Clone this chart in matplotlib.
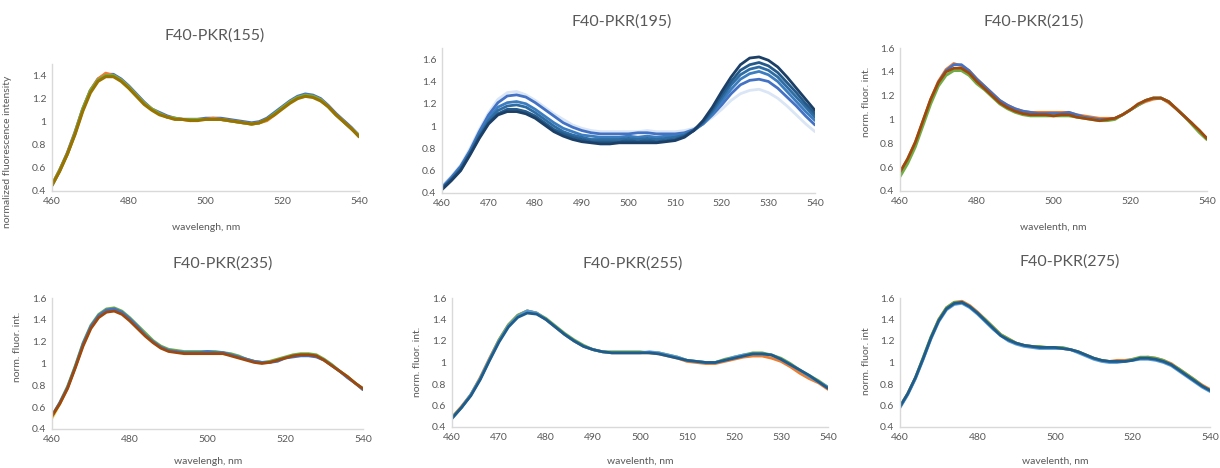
import numpy as np
import matplotlib
matplotlib.use("Agg")
import matplotlib.pyplot as plt

plt.rcParams['font.family'] = ['Lato', 'DejaVu Sans']

# wavelength grid, nm (2 nm steps)
wl = np.arange(460, 541, 2)

# ---- F40-PKR(155) ----
p155_blue = [0.45, 0.58, 0.73, 0.91, 1.11, 1.27, 1.37, 1.41, 1.41, 1.37, 1.31, 1.24, 1.17, 1.11, 1.08, 1.05, 1.03, 1.02, 1.02, 1.02, 1.03,
             1.03, 1.03, 1.02, 1.01, 1.00, 0.99, 1.00, 1.03, 1.08, 1.13, 1.18, 1.22, 1.24, 1.23, 1.20, 1.14, 1.07, 1.01, 0.95, 0.88]
p155_orange = [0.45, 0.58, 0.72, 0.90, 1.10, 1.27, 1.37, 1.42, 1.40, 1.36, 1.30, 1.23, 1.16, 1.11, 1.07, 1.04, 1.03, 1.02, 1.01, 1.02, 1.02,
               1.03, 1.02, 1.01, 1.00, 0.99, 0.98, 0.99, 1.01, 1.06, 1.12, 1.17, 1.21, 1.22, 1.22, 1.19, 1.13, 1.06, 1.00, 0.94, 0.88]
p155_green = [0.45, 0.58, 0.72, 0.90, 1.11, 1.27, 1.36, 1.40, 1.40, 1.36, 1.30, 1.23, 1.16, 1.11, 1.07, 1.04, 1.03, 1.02, 1.02, 1.02, 1.02,
              1.02, 1.02, 1.01, 1.00, 0.99, 0.98, 0.99, 1.02, 1.07, 1.12, 1.17, 1.21, 1.23, 1.22, 1.19, 1.13, 1.06, 1.00, 0.94, 0.88]
p155_olive = [0.45, 0.57, 0.72, 0.89, 1.09, 1.25, 1.35, 1.39, 1.39, 1.35, 1.29, 1.22, 1.15, 1.10, 1.06, 1.04, 1.02, 1.02, 1.01, 1.01, 1.02,
              1.02, 1.02, 1.01, 1.00, 0.99, 0.98, 0.99, 1.02, 1.06, 1.11, 1.16, 1.20, 1.22, 1.21, 1.18, 1.13, 1.06, 1.00, 0.94, 0.87]

# ---- F40-PKR(195) ----
p195_s1 = [0.46, 0.55, 0.65, 0.80, 0.97, 1.12, 1.24, 1.30, 1.31, 1.28, 1.23, 1.17, 1.11, 1.06, 1.01, 0.98, 0.96, 0.95, 0.95, 0.95, 0.95,
           0.95, 0.96, 0.95, 0.95, 0.95, 0.96, 0.98, 1.02, 1.08, 1.15, 1.23, 1.29, 1.32, 1.33, 1.30, 1.25, 1.18, 1.10, 1.02, 0.95]
p195_s2 = [0.45, 0.54, 0.64, 0.78, 0.95, 1.10, 1.21, 1.27, 1.28, 1.26, 1.21, 1.15, 1.09, 1.03, 0.99, 0.96, 0.94, 0.93, 0.93, 0.93, 0.93,
           0.94, 0.94, 0.93, 0.93, 0.93, 0.94, 0.97, 1.02, 1.10, 1.19, 1.29, 1.37, 1.41, 1.42, 1.40, 1.34, 1.26, 1.18, 1.09, 1.01]
p195_s3 = [0.45, 0.53, 0.63, 0.77, 0.93, 1.07, 1.17, 1.21, 1.22, 1.20, 1.15, 1.09, 1.03, 0.98, 0.95, 0.92, 0.91, 0.90, 0.90, 0.90, 0.91,
           0.90, 0.91, 0.90, 0.91, 0.91, 0.93, 0.96, 1.02, 1.11, 1.22, 1.33, 1.42, 1.47, 1.49, 1.46, 1.40, 1.31, 1.22, 1.13, 1.05]
p195_s4 = [0.44, 0.52, 0.62, 0.76, 0.92, 1.05, 1.14, 1.18, 1.19, 1.17, 1.12, 1.06, 1.00, 0.95, 0.92, 0.90, 0.88, 0.88, 0.88, 0.88, 0.89,
           0.88, 0.89, 0.88, 0.89, 0.90, 0.92, 0.96, 1.03, 1.13, 1.25, 1.37, 1.46, 1.51, 1.53, 1.50, 1.44, 1.35, 1.26, 1.17, 1.08]
p195_s5 = [0.44, 0.52, 0.61, 0.75, 0.90, 1.03, 1.11, 1.15, 1.15, 1.13, 1.09, 1.03, 0.97, 0.93, 0.90, 0.88, 0.86, 0.86, 0.86, 0.86, 0.87,
           0.86, 0.87, 0.86, 0.87, 0.88, 0.91, 0.96, 1.04, 1.15, 1.28, 1.40, 1.50, 1.55, 1.57, 1.54, 1.48, 1.39, 1.30, 1.20, 1.11]
p195_s6 = [0.43, 0.51, 0.60, 0.74, 0.89, 1.02, 1.10, 1.13, 1.13, 1.11, 1.07, 1.01, 0.95, 0.91, 0.88, 0.86, 0.85, 0.84, 0.84, 0.85, 0.85,
           0.85, 0.85, 0.85, 0.86, 0.87, 0.90, 0.96, 1.05, 1.17, 1.31, 1.44, 1.55, 1.61, 1.62, 1.59, 1.53, 1.44, 1.34, 1.24, 1.14]

# ---- F40-PKR(215) ----
p215_orange = [0.55, 0.67, 0.81, 0.99, 1.17, 1.32, 1.42, 1.47, 1.45, 1.41, 1.34, 1.28, 1.22, 1.16, 1.12, 1.09, 1.07, 1.06, 1.06, 1.06, 1.06,
               1.06, 1.06, 1.04, 1.03, 1.02, 1.01, 1.01, 1.01, 1.04, 1.08, 1.12, 1.15, 1.17, 1.18, 1.14, 1.09, 1.03, 0.97, 0.90, 0.84]
p215_blue = [0.55, 0.66, 0.80, 0.98, 1.16, 1.31, 1.41, 1.46, 1.46, 1.41, 1.34, 1.28, 1.22, 1.16, 1.12, 1.09, 1.07, 1.06, 1.05, 1.05, 1.05,
             1.05, 1.06, 1.04, 1.02, 1.01, 1.00, 1.00, 1.01, 1.04, 1.08, 1.12, 1.16, 1.18, 1.18, 1.15, 1.09, 1.03, 0.97, 0.90, 0.84]
p215_green = [0.52, 0.63, 0.77, 0.95, 1.13, 1.28, 1.37, 1.41, 1.41, 1.37, 1.30, 1.25, 1.19, 1.13, 1.09, 1.06, 1.04, 1.03, 1.03, 1.03, 1.03,
              1.03, 1.03, 1.02, 1.01, 1.00, 0.99, 0.99, 1.00, 1.04, 1.08, 1.12, 1.16, 1.18, 1.18, 1.15, 1.09, 1.03, 0.96, 0.89, 0.83]
p215_brown = [0.56, 0.67, 0.81, 0.99, 1.17, 1.31, 1.40, 1.43, 1.43, 1.39, 1.32, 1.26, 1.20, 1.14, 1.10, 1.07, 1.05, 1.04, 1.04, 1.04, 1.03,
              1.04, 1.04, 1.02, 1.01, 1.00, 0.99, 1.00, 1.01, 1.04, 1.08, 1.13, 1.16, 1.18, 1.18, 1.15, 1.09, 1.03, 0.97, 0.91, 0.84]

# ---- F40-PKR(235) ----
p235_green = [0.52, 0.64, 0.79, 0.98, 1.19, 1.35, 1.45, 1.50, 1.51, 1.48, 1.42, 1.35, 1.28, 1.21, 1.16, 1.13, 1.12, 1.11, 1.11, 1.11, 1.11,
              1.11, 1.10, 1.09, 1.07, 1.04, 1.02, 1.01, 1.02, 1.04, 1.06, 1.08, 1.09, 1.09, 1.08, 1.04, 0.99, 0.93, 0.88, 0.82, 0.77]
p235_blue = [0.52, 0.64, 0.78, 0.97, 1.18, 1.34, 1.44, 1.49, 1.50, 1.47, 1.41, 1.34, 1.26, 1.20, 1.15, 1.12, 1.11, 1.10, 1.10, 1.10, 1.11,
             1.10, 1.10, 1.08, 1.06, 1.04, 1.02, 1.01, 1.01, 1.02, 1.05, 1.06, 1.07, 1.07, 1.06, 1.03, 0.98, 0.93, 0.87, 0.82, 0.76]
p235_yellow = [0.50, 0.63, 0.78, 0.97, 1.17, 1.33, 1.43, 1.48, 1.49, 1.46, 1.40, 1.33, 1.26, 1.20, 1.15, 1.12, 1.11, 1.10, 1.10, 1.10, 1.10,
               1.10, 1.09, 1.08, 1.06, 1.04, 1.02, 1.01, 1.01, 1.03, 1.05, 1.07, 1.08, 1.08, 1.07, 1.03, 0.98, 0.93, 0.88, 0.82, 0.76]
p235_brown = [0.52, 0.63, 0.77, 0.96, 1.16, 1.32, 1.42, 1.47, 1.48, 1.45, 1.39, 1.32, 1.25, 1.19, 1.14, 1.11, 1.10, 1.09, 1.09, 1.09, 1.09,
              1.09, 1.09, 1.07, 1.05, 1.03, 1.01, 1.00, 1.01, 1.03, 1.05, 1.07, 1.08, 1.08, 1.07, 1.03, 0.98, 0.93, 0.88, 0.82, 0.77]

# ---- F40-PKR(255) ----
p255_orange = [0.49, 0.59, 0.70, 0.86, 1.04, 1.21, 1.35, 1.44, 1.48, 1.46, 1.40, 1.33, 1.26, 1.20, 1.15, 1.12, 1.10, 1.09, 1.09, 1.09, 1.09,
               1.09, 1.08, 1.06, 1.04, 1.01, 1.00, 0.99, 0.99, 1.01, 1.03, 1.05, 1.06, 1.06, 1.04, 1.01, 0.96, 0.90, 0.85, 0.81, 0.75]
p255_green = [0.49, 0.58, 0.70, 0.85, 1.03, 1.21, 1.35, 1.44, 1.48, 1.46, 1.41, 1.34, 1.27, 1.21, 1.16, 1.12, 1.10, 1.10, 1.10, 1.10, 1.10,
              1.09, 1.09, 1.07, 1.05, 1.02, 1.01, 1.00, 1.00, 1.03, 1.05, 1.07, 1.09, 1.09, 1.07, 1.04, 0.99, 0.93, 0.88, 0.83, 0.77]
p255_lblue = [0.48, 0.58, 0.70, 0.85, 1.03, 1.20, 1.34, 1.43, 1.48, 1.46, 1.40, 1.33, 1.26, 1.20, 1.15, 1.12, 1.10, 1.09, 1.09, 1.09, 1.09,
              1.10, 1.09, 1.07, 1.05, 1.02, 1.01, 1.00, 1.00, 1.02, 1.05, 1.07, 1.08, 1.08, 1.07, 1.03, 0.98, 0.93, 0.87, 0.82, 0.77]
p255_dblue = [0.48, 0.58, 0.69, 0.84, 1.02, 1.19, 1.33, 1.42, 1.46, 1.45, 1.40, 1.33, 1.26, 1.20, 1.15, 1.12, 1.10, 1.09, 1.09, 1.09, 1.09,
              1.09, 1.08, 1.06, 1.04, 1.02, 1.01, 1.00, 1.00, 1.02, 1.04, 1.06, 1.08, 1.08, 1.07, 1.03, 0.98, 0.93, 0.88, 0.82, 0.76]

# ---- F40-PKR(275) ----
p275_orange = [0.59, 0.71, 0.86, 1.04, 1.23, 1.40, 1.51, 1.56, 1.57, 1.53, 1.47, 1.40, 1.33, 1.26, 1.22, 1.18, 1.16, 1.15, 1.14, 1.14, 1.14,
               1.13, 1.12, 1.10, 1.07, 1.04, 1.02, 1.01, 1.02, 1.02, 1.03, 1.04, 1.05, 1.04, 1.02, 0.99, 0.94, 0.89, 0.84, 0.79, 0.75]
p275_green = [0.59, 0.71, 0.86, 1.05, 1.24, 1.40, 1.51, 1.56, 1.56, 1.52, 1.46, 1.40, 1.33, 1.26, 1.22, 1.18, 1.16, 1.15, 1.15, 1.14, 1.14,
              1.14, 1.12, 1.10, 1.07, 1.04, 1.02, 1.01, 1.01, 1.01, 1.03, 1.05, 1.05, 1.04, 1.02, 0.98, 0.94, 0.89, 0.84, 0.78, 0.74]
p275_lblue = [0.58, 0.70, 0.85, 1.03, 1.22, 1.38, 1.49, 1.54, 1.55, 1.51, 1.45, 1.38, 1.31, 1.25, 1.20, 1.17, 1.15, 1.14, 1.13, 1.13, 1.13,
              1.13, 1.12, 1.09, 1.06, 1.03, 1.01, 1.00, 1.00, 1.01, 1.02, 1.03, 1.03, 1.02, 1.00, 0.97, 0.92, 0.87, 0.82, 0.77, 0.73]
p275_dblue = [0.59, 0.71, 0.86, 1.04, 1.23, 1.39, 1.50, 1.55, 1.56, 1.52, 1.46, 1.39, 1.32, 1.25, 1.21, 1.18, 1.16, 1.15, 1.14, 1.14, 1.14,
              1.13, 1.12, 1.10, 1.07, 1.04, 1.02, 1.01, 1.01, 1.01, 1.02, 1.04, 1.04, 1.03, 1.01, 0.98, 0.93, 0.88, 0.83, 0.78, 0.74]

titles = ["F40-PKR(155)", "F40-PKR(195)", "F40-PKR(215)",
          "F40-PKR(235)", "F40-PKR(255)", "F40-PKR(275)"]
ytick_vals = [0.4, 0.6, 0.8, 1.0, 1.2, 1.4, 1.6]
ytick_text = ['0.4', '0.6', '0.8', '1', '1.2', '1.4', '1.6']

grey_txt = '#595959'
axis_col = '#D9D9D9'

panels = [
    # (series, colours, linewidth, ylim, xtick step)
    ([p155_blue, p155_orange, p155_green, p155_olive],
     ['#4472C4', '#ED7D31', '#70AD47', '#997300'], 2.2, (0.4, 1.5), 20),
    ([p195_s1, p195_s2, p195_s3, p195_s4, p195_s5, p195_s6],
     ['#DAE6F5', '#4472C4', '#3C7DC0', '#2E6DA4', '#245A8A', '#1B3F66'], 2.0, (0.4, 1.7), 10),
    ([p215_orange, p215_blue, p215_green, p215_brown],
     ['#ED7D31', '#4472C4', '#70AD47', '#9E480E'], 2.0, (0.4, 1.6), 20),
    ([p235_yellow, p235_green, p235_blue, p235_brown],
     ['#FFC000', '#70AD47', '#4472C4', '#9E480E'], 2.0, (0.4, 1.6), 20),
    ([p255_orange, p255_green, p255_lblue, p255_dblue],
     ['#ED7D31', '#70AD47', '#5B9BD5', '#1F5C8B'], 2.0, (0.4, 1.6), 10),
    ([p275_orange, p275_green, p275_lblue, p275_dblue],
     ['#ED7D31', '#70AD47', '#5B9BD5', '#1F5C8B'], 2.0, (0.4, 1.6), 20),
]

# axes boxes in pixels: x0, x1, ytop, ybottom
W, H = 1220, 468
boxes = [(52, 359, 64, 191), (442, 815, 48, 193), (900, 1207, 48, 191),
         (52, 363, 298, 429), (452, 828, 298, 427), (900, 1210, 298, 427)]
title_pos = [(215, 36), (622, 22), (1034, 22), (223, 264), (633, 264), (1070, 262)]
xlabels = ["wavelengh, nm", None, "wavelenth, nm", "wavelengh, nm", "wavelenth, nm", "wavelenth, nm"]
xlabel_pos = [(206, 227), None, (1053, 227), (208, 461), (640, 461), (1055, 461)]
ylabels = ["normalized fluorescence intensity", None, "norm. fluor. int.",
           "norm. fluor. int.", "norm. fluor. int.", "norm. fluor. int"]
ylabel_pos = [(8, 152), None, (866, 102), (18, 347), (417, 362), (866, 361)]

fig = plt.figure(figsize=(12.2, 4.68), dpi=100)

for i, (series, cols, lw, ylim, step) in enumerate(panels):
    x0, x1, yt, yb = boxes[i]
    ax = fig.add_axes([x0 / W, 1 - yb / H, (x1 - x0) / W, (yb - yt) / H])
    for s, c in zip(series, cols):
        ax.plot(wl, s, color=c, lw=lw, solid_capstyle='round')
    ax.set_xticks(np.arange(460, 541, step))
    n = int((ylim[1] - 0.4) / 0.2 + 1e-6) + 1
    ax.set_yticks(ytick_vals[:n])
    ax.set_yticklabels(ytick_text[:n])
    ax.set_xlim(460, 540)
    ax.set_ylim(*ylim)
    ax.tick_params(length=0, labelsize=7.5, colors=grey_txt, pad=4)
    for sp in ['top', 'right']:
        ax.spines[sp].set_visible(False)
    for sp in ['left', 'bottom']:
        ax.spines[sp].set_color(axis_col)
        ax.spines[sp].set_linewidth(1.0)

    tx, ty = title_pos[i]
    fig.text(tx / W, 1 - ty / H, titles[i], ha='center', va='center', fontsize=11.5, color=grey_txt)
    if xlabels[i]:
        lx, ly = xlabel_pos[i]
        fig.text(lx / W, 1 - ly / H, xlabels[i], ha='center', va='center', fontsize=7.5, color=grey_txt)
    if ylabels[i]:
        lx, ly = ylabel_pos[i]
        fig.text(lx / W, 1 - ly / H, ylabels[i], ha='center', va='center', rotation=90, fontsize=7.5, color=grey_txt)

fig.savefig("out.png", dpi=100)
